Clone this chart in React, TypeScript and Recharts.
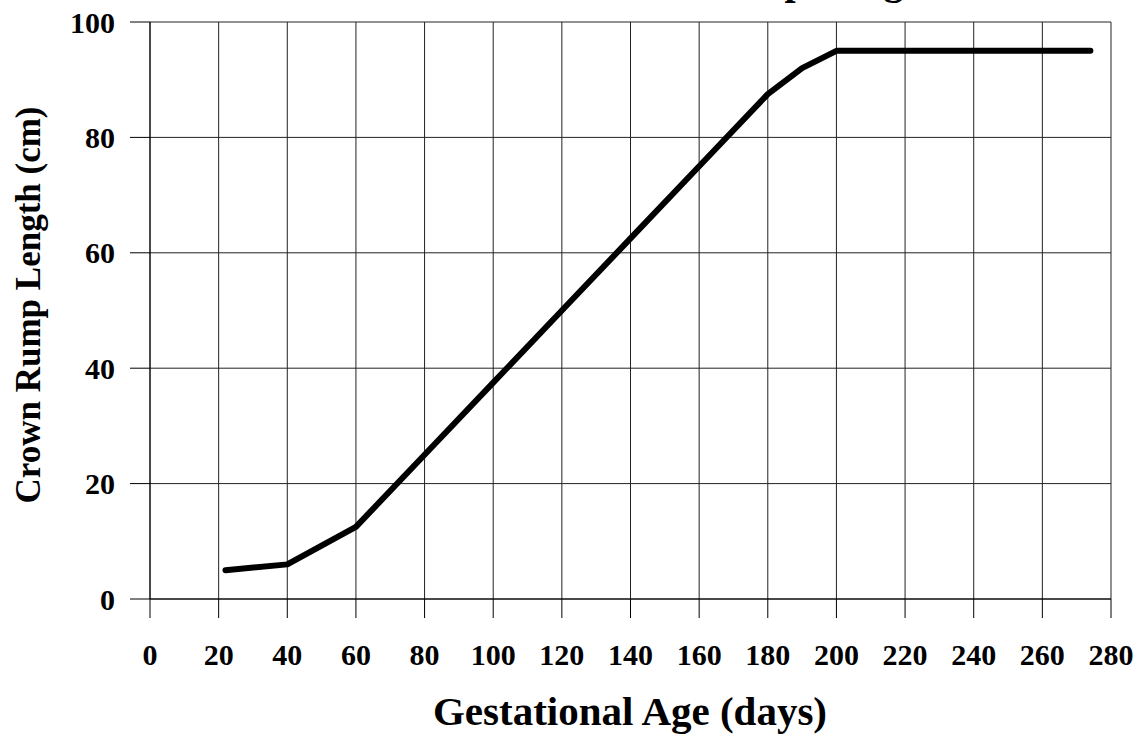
import { CartesianGrid, Line, LineChart, XAxis, YAxis } from 'recharts'

type CrlPoint = {
  age: number
  crl: number
}

// gestational age in days
const ages = [22, 40, 60, 80, 100, 120, 140, 160, 180, 190, 200, 274]
// crown rump length in cm
const crlValues = [5, 6, 12.5, 25, 37.5, 50, 62.5, 75, 87.5, 92, 95, 95]

const xTicks = [0, 20, 40, 60, 80, 100, 120, 140, 160, 180, 200, 220, 240, 260, 280]
const yTicks = [0, 20, 40, 60, 80, 100]

const titleText = 'Crown Rump Length'
const xLabelText = 'Gestational Age (days)'
const yLabelText = 'Crown Rump Length (cm)'

const chartData: CrlPoint[] = ages.map((age, i) => ({ age, crl: crlValues[i] }))

const serif = '"Liberation Serif", "Times New Roman", serif'

const tickStyle = {
  fontFamily: serif,
  fontSize: 30,
  fontWeight: 700,
  fill: '#000',
}

function App() {
  return (
    <div style={{ position: 'absolute', left: 0, top: 0, width: 1138, height: 744, background: '#fff' }}>
      <LineChart
        width={1138}
        height={744}
        data={chartData}
        margin={{ top: 22, right: 27, bottom: 0, left: 0 }}
      >
        <CartesianGrid stroke="#222" strokeWidth={1} />
        <XAxis
          dataKey="age"
          type="number"
          domain={[0, 280]}
          ticks={xTicks}
          interval={0}
          height={145}
          stroke="#000"
          tickSize={19}
          tickMargin={26}
          tick={tickStyle}
          label={{
            content: () => (
              <text
                x={630}
                y={725}
                textAnchor="middle"
                fontFamily={serif}
                fontSize={41}
                fontWeight={700}
                fill="#000"
              >
                {xLabelText}
              </text>
            ),
          }}
        />
        <YAxis
          type="number"
          domain={[0, 100]}
          ticks={yTicks}
          interval={0}
          width={150}
          stroke="#000"
          tickSize={20}
          tickMargin={15}
          tick={tickStyle}
          label={{
            content: () => (
              <text
                x={28}
                y={305}
                transform="rotate(-90 28 305)"
                textAnchor="middle"
                dominantBaseline="central"
                fontFamily={serif}
                fontSize={35}
                fontWeight={700}
                fill="#000"
              >
                {yLabelText}
              </text>
            ),
          }}
        />
        <Line
          type="linear"
          dataKey="crl"
          stroke="#000"
          strokeWidth={6}
          strokeLinecap="round"
          strokeLinejoin="round"
          dot={false}
          activeDot={false}
          isAnimationActive={false}
        />
      </LineChart>
      <svg
        width={1138}
        height={20}
        style={{ position: 'absolute', left: 0, top: 0, pointerEvents: 'none' }}
      >
        <text x={573} y={-6} fontFamily={serif} fontSize={40} fontWeight={700} fill="#000">
          {titleText}
        </text>
      </svg>
    </div>
  )
}

export default App
